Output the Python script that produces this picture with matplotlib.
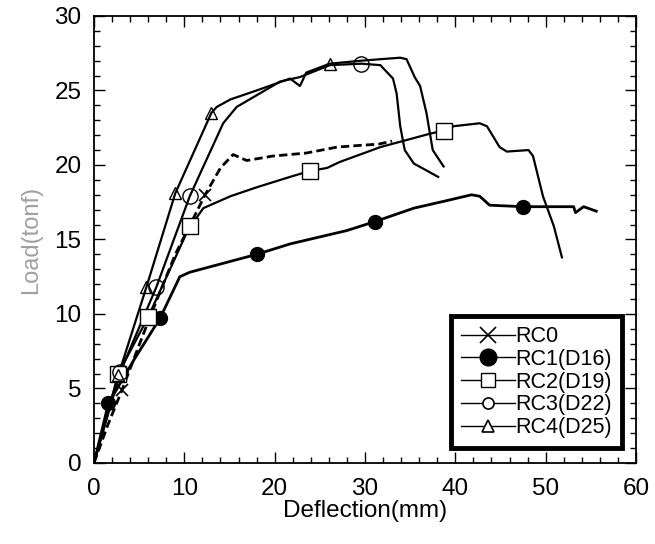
import matplotlib
matplotlib.use("Agg")
import matplotlib.pyplot as plt
from matplotlib.lines import Line2D
from matplotlib.ticker import MultipleLocator

plt.rcParams['font.family'] = ['Liberation Sans', 'DejaVu Sans']

# load-deflection curves (mm, tonf)
rc0_x = [0, 1.5, 3.1, 6.0, 9.0, 12.3, 14.0, 15.4, 16.9, 19.8, 23.5, 26.9, 29.1, 31.5, 33.0]
rc0_y = [0, 2.5, 4.9, 9.5, 14.0, 18.0, 19.8, 20.7, 20.3, 20.6, 20.8, 21.2, 21.3, 21.4, 21.6]

rc1_x = [0, 1.6, 4.5, 7.3, 9.5, 10.6, 14.3, 18.0, 21.7, 28.0, 31.1, 35.4, 39.0, 41.8, 42.7, 43.8,
         47.5, 53.1, 53.3, 54.2, 55.6]
rc1_y = [0, 4.0, 7.0, 9.7, 12.5, 12.8, 13.4, 14.0, 14.7, 15.6, 16.2, 17.1, 17.6, 18.0, 17.9, 17.3,
         17.2, 17.2, 16.8, 17.2, 16.9]

rc2_x = [0, 2.7, 6.0, 10.6, 11.4, 12.1, 15.1, 18.0, 21.7, 23.9, 25.8, 27.2, 31.7, 37.2, 38.7, 39.8,
         42.7, 43.5, 44.9, 45.7, 48.1, 48.6, 49.7, 50.9, 51.8]
rc2_y = [0, 6.0, 9.8, 15.9, 16.5, 17.1, 17.9, 18.5, 19.2, 19.6, 19.8, 20.2, 21.2, 22.1, 22.3, 22.6,
         22.8, 22.6, 21.2, 20.9, 21.0, 20.6, 17.9, 15.9, 13.8]

rc3_x = [0, 2.9, 6.9, 10.6, 14.3, 15.8, 17.5, 20.6, 22.8, 26.1, 29.6, 31.7, 33.1, 33.5, 33.9, 34.4,
         35.4, 38.1]
rc3_y = [0, 6.1, 11.8, 17.9, 22.8, 23.9, 24.5, 25.6, 25.9, 26.7, 26.8, 26.7, 25.8, 24.8, 22.6, 21.0,
         20.1, 19.2]

rc4_x = [0, 2.7, 5.8, 9.0, 13.0, 13.6, 15.1, 18.0, 21.7, 22.8, 23.5, 26.1, 29.6, 31.7, 33.9, 34.6,
         35.5, 36.1, 36.8, 37.5, 38.7]
rc4_y = [0, 5.9, 11.8, 18.1, 23.5, 23.9, 24.4, 25.0, 25.8, 25.3, 26.2, 26.8, 27.0, 27.1, 27.2, 27.1,
         25.9, 25.3, 23.5, 21.0, 19.9]

# marker positions
rc0_mx = [3.1, 12.3]
rc0_my = [4.9, 18.0]
rc1_mx = [1.6, 7.3, 18.0, 31.1, 47.5]
rc1_my = [4.0, 9.7, 14.0, 16.2, 17.2]
rc2_mx = [2.7, 6.0, 10.6, 23.9, 38.7]
rc2_my = [6.0, 9.8, 15.9, 19.6, 22.3]
rc3_mx = [2.9, 6.9, 10.6, 29.6]
rc3_my = [6.1, 11.8, 17.9, 26.8]
rc4_mx = [2.7, 5.8, 9.0, 13.0, 26.1]
rc4_my = [5.9, 11.8, 18.1, 23.5, 26.8]

labels = ["RC0", "RC1(D16)", "RC2(D19)", "RC3(D22)", "RC4(D25)"]

fig = plt.figure(figsize=(6.55, 5.44), dpi=100)
ax = fig.add_axes([0.1435, 0.149, 0.8275, 0.8216])

ax.plot(rc0_x, rc0_y, color="black", lw=2.0, ls=(0, (3, 1.5)))
ax.plot(rc1_x, rc1_y, color="black", lw=2.0)
ax.plot(rc2_x, rc2_y, color="black", lw=1.6)
ax.plot(rc3_x, rc3_y, color="black", lw=1.6)
ax.plot(rc4_x, rc4_y, color="black", lw=1.6)

ax.plot(rc0_mx, rc0_my, ls="none", marker="x", ms=9, mew=1.2, color="black")
ax.plot(rc1_mx, rc1_my, ls="none", marker="o", ms=10, color="black")
ax.plot(rc2_mx, rc2_my, ls="none", marker="s", ms=11, mfc="white", mec="black", mew=1.0)
ax.plot(rc3_mx, rc3_my, ls="none", marker="o", ms=11, mfc="none", mec="black", mew=1.0)
ax.plot(rc4_mx, rc4_my, ls="none", marker="^", ms=9, mfc="none", mec="black", mew=1.0)

ax.set_xlim(0, 60)
ax.set_ylim(0, 30)
ax.xaxis.set_major_locator(MultipleLocator(10))
ax.xaxis.set_minor_locator(MultipleLocator(2))
ax.yaxis.set_major_locator(MultipleLocator(5))
ax.yaxis.set_minor_locator(MultipleLocator(1))
ax.tick_params(which="both", direction="in", top=True, right=True, width=1.0, labelsize=17.5)
ax.tick_params(which="major", length=8)
ax.tick_params(which="minor", length=4.5)
ax.tick_params(axis="x", pad=11)
ax.tick_params(axis="y", pad=9)
for s in ax.spines.values():
    s.set_linewidth(1.3)

ax.set_xlabel("Deflection(mm)", fontsize=17.5, labelpad=0)
ax.set_ylabel("Load(tonf)", fontsize=17, color="#a0a0a0", labelpad=9)

handles = [
    Line2D([], [], color="black", lw=1, marker="x", ms=11, mew=1.2),
    Line2D([], [], color="black", lw=1, marker="o", ms=12),
    Line2D([], [], color="black", lw=1, marker="s", ms=10, mfc="white", mec="black"),
    Line2D([], [], color="black", lw=1, marker="o", ms=8, mfc="white", mec="black", mew=1.2),
    Line2D([], [], color="black", lw=1, marker="^", ms=8, mfc="white", mec="black", mew=1.2),
]
leg = ax.legend(handles, labels, loc="lower right", bbox_to_anchor=(0.974, 0.034),
                fontsize=15.5, frameon=True, fancybox=False, framealpha=1, handlelength=2.5,
                handletextpad=0.05, labelspacing=0.08, borderpad=0.45, borderaxespad=0)
leg.get_frame().set_edgecolor("black")
leg.get_frame().set_linewidth(3.5)

fig.savefig("out.png", dpi=100)
